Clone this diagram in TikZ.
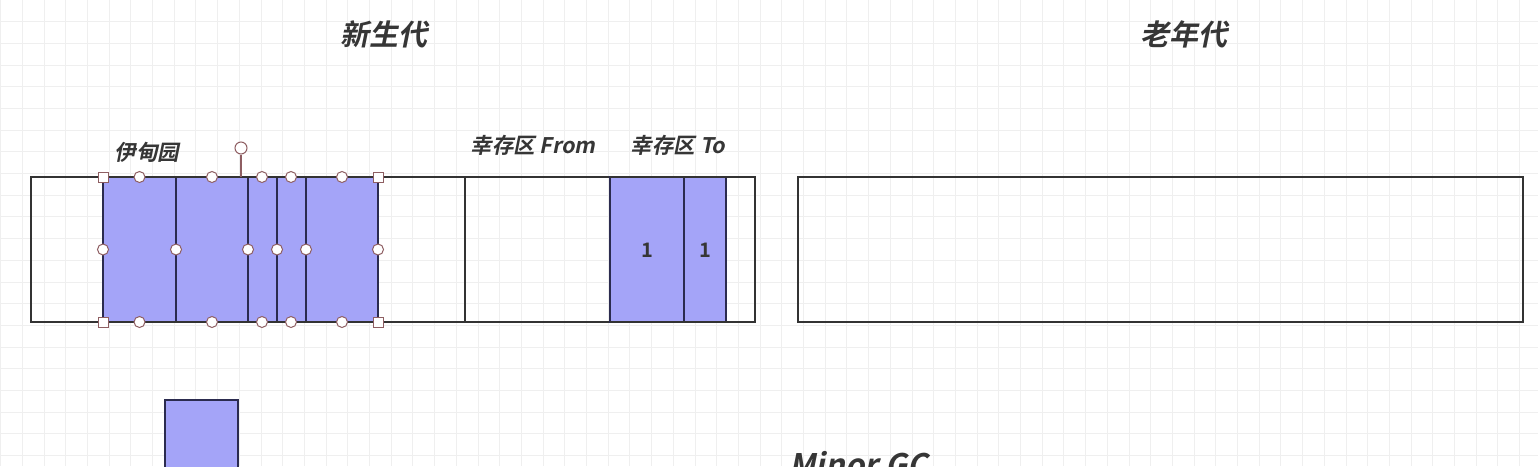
\documentclass[tikz,border=0pt]{standalone}
\usepackage{fontspec}
\newfontfamily\cjkbi{Noto Sans CJK SC Bold}[FakeSlant=0.2]
\newfontfamily\cjkb{Noto Sans CJK SC Bold}
\definecolor{objfill}{HTML}{A4A4F8}
\definecolor{objline}{HTML}{2B2B4F}
\definecolor{boxline}{HTML}{333333}
\definecolor{handleline}{HTML}{8E5E62}
\definecolor{gridline}{HTML}{EFEFEF}
\definecolor{inkgray}{HTML}{363636}
\tikzset{
  box/.style={draw=boxline, line width=2.4pt},
  obj/.style={draw=objline, fill=objfill, line width=2.4pt},
  handle/.style={draw=handleline, fill=white, line width=1pt},
  title/.style={text=inkgray, font=\cjkbi\fontsize{29}{32}\selectfont},
  tag/.style={text=inkgray, font=\cjkbi\fontsize{21.5}{24}\selectfont},
  count/.style={text=inkgray, font=\cjkb\fontsize{20}{24}\selectfont}
}

\begin{document}
\begin{tikzpicture}[x=1pt, y=-1pt]
                \clip (0,0) rectangle (1538,466);
                \fill [white] (0,0) rectangle (1538,466);
                \draw [gridline, line width=0.8pt, step=21.7pt, xshift=0.5pt, yshift=0.2pt] (0,466) grid (1538,0);
                % Titles
                \node [title] (young) at (384,34) {新生代};
                \node [title] (old) at (1184,34) {老年代};
                \node [tag] (eden) at (147,152) {伊甸园};
                \node [tag] (from) at (533,145) {幸存区 From};
                \node [tag] (to) at (678,145) {幸存区 To};
                % Young
                \draw [box] (31,177) rectangle (755,322);
                \filldraw [obj] (103,177) rectangle (176,322);
                \filldraw [obj] (176,177) rectangle (248,322);
                \filldraw [obj] (248,177) rectangle (277,322);
                \filldraw [obj] (277,177) rectangle (306,322);
                \filldraw [obj] (306,177) rectangle (378,322);
                \draw [box] (103,177) -- (378,177);
                \draw [box] (103,322) -- (378,322);
                \draw [box] (465,177) -- (465,322);
                \filldraw [obj] (610,177) rectangle (684,322);
                \filldraw [obj] (684,177) rectangle (726,322);
                \draw [box] (610,177) -- (755,177);
                \draw [box] (610,322) -- (755,322);
                \node [count] (toa) at (647,250) {1};
                \node [count] (tob) at (705,250) {1};
                % Old
                \draw [box] (798,177) rectangle (1523,322);
                % Selection
                \node [handle, circle, inner sep=0pt, minimum size=12pt] (rot) at (241,148) {};
                \coordinate (rotfoot) at (241,177);
                \draw [handleline, line width=1.2pt] (rot) -- (rotfoot);
                \filldraw [handle] (98,172) rectangle (108,182);
                \filldraw [handle] (373,172) rectangle (383,182);
                \filldraw [handle] (98,317) rectangle (108,327);
                \filldraw [handle] (373,317) rectangle (383,327);
                \filldraw [handle] (139.5,177) circle (5.5pt);
                \filldraw [handle] (212,177) circle (5.5pt);
                \filldraw [handle] (262,177) circle (5.5pt);
                \filldraw [handle] (291,177) circle (5.5pt);
                \filldraw [handle] (342,177) circle (5.5pt);
                \filldraw [handle] (139.5,322) circle (5.5pt);
                \filldraw [handle] (212,322) circle (5.5pt);
                \filldraw [handle] (262,322) circle (5.5pt);
                \filldraw [handle] (291,322) circle (5.5pt);
                \filldraw [handle] (342,322) circle (5.5pt);
                \filldraw [handle] (103,249.5) circle (5.5pt);
                \filldraw [handle] (176,249.5) circle (5.5pt);
                \filldraw [handle] (248,249.5) circle (5.5pt);
                \filldraw [handle] (277,249.5) circle (5.5pt);
                \filldraw [handle] (306,249.5) circle (5.5pt);
                \filldraw [handle] (378,249.5) circle (5.5pt);
                % New
                \filldraw [obj] (165,400) rectangle (238,490);
                \node [title, font=\cjkbi\fontsize{31}{34}\selectfont, anchor=base west] (minor) at (786,476) {Minor GC};
            \end{tikzpicture}
\end{document}
